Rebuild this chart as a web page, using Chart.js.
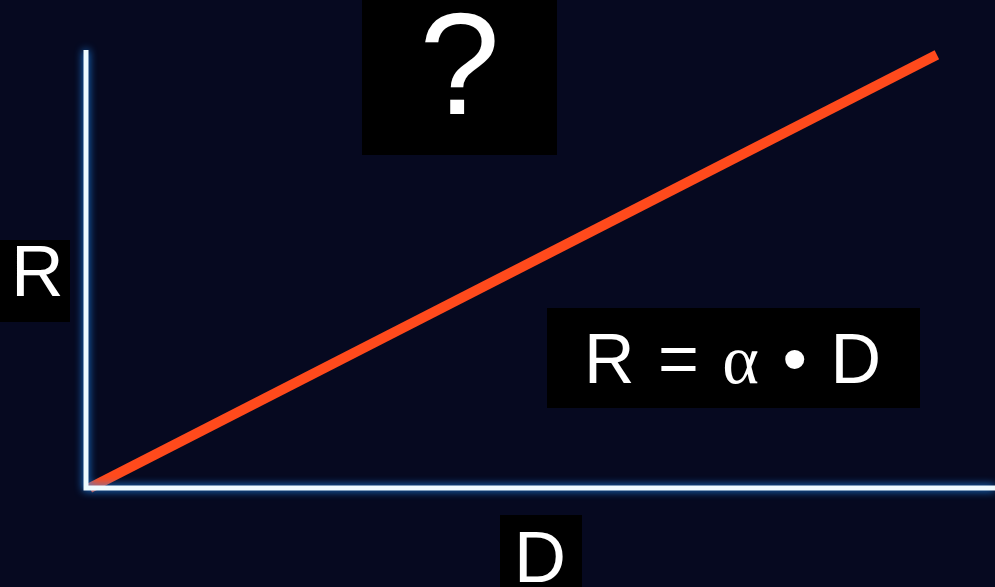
<!DOCTYPE html>
<html>
<head>
    <title>R = α • D</title>
    <script src="https://cdn.jsdelivr.net/npm/chart.js"></script>
    <style>
        html, body { margin: 0; padding: 0; background: #060920; overflow: hidden; }
        #wrap { position: relative; width: 995px; height: 587px; }
        .box { position: absolute; background: #000; }
        .lbl { position: absolute; color: #fff; font-family: "Liberation Sans", Arial, sans-serif; line-height: 1; white-space: nowrap; }
        .alpha { font-family: "Liberation Serif", "DejaVu Serif", serif; }
    </style>
</head>
<body>
    <div id="wrap">
        <canvas id="lawChart" width="995" height="587"></canvas>

        <div class="box" style="left:362px; top:0; width:195px; height:155px;"></div>
        <div class="lbl" style="left:362px; width:195px; text-align:center; top:-8px; font-size:145px;">?</div>

        <div class="box" style="left:0; top:240px; width:70px; height:82px;"></div>
        <div class="lbl" style="left:11px; top:234px; font-size:73px;">R</div>

        <div class="box" style="left:547px; top:308px; width:373px; height:100px;"></div>
        <div class="lbl" style="left:584px; top:324px; font-size:70px; word-spacing:4px;">R = <span class="alpha">α</span> • D</div>

        <div class="box" style="left:500px; top:515px; width:82px; height:72px;"></div>
        <div class="lbl" style="left:514px; top:521px; font-size:72px;">D</div>
    </div>

    <script>
        // distance (x) and recession velocity (y), arbitrary units
        const distance = [0.3, 93.6];
        const velocity = [0, 98.9];

        const axisColor = '#eefaff';
        const lineColor = '#ff4a1c';

        // white axes with a soft blue glow, placed from the chart scales
        const glowAxes = {
            id: 'glowAxes',
            afterDatasetsDraw(chart) {
                const ctx = chart.ctx;
                const x = chart.scales.x;
                const y = chart.scales.y;
                const x0 = x.getPixelForValue(0) - 1;
                const y0 = y.getPixelForValue(0);
                ctx.save();
                ctx.strokeStyle = axisColor;
                ctx.lineWidth = 5;
                ctx.lineCap = 'butt';
                ctx.shadowColor = '#1e90ff';
                ctx.shadowBlur = 8;
                ctx.beginPath();
                ctx.moveTo(x0, y.getPixelForValue(100));
                ctx.lineTo(x0, y0 + 2.5);
                ctx.moveTo(x0 - 2.5, y0);
                ctx.lineTo(x.getPixelForValue(100), y0);
                ctx.stroke();
                ctx.restore();
            }
        };

        new Chart(document.getElementById('lawChart'), {
            type: 'scatter',
            data: {
                datasets: [{
                    data: distance.map((d, i) => ({ x: d, y: velocity[i] })),
                    showLine: true,
                    borderColor: lineColor,
                    borderWidth: 10,
                    borderCapStyle: 'butt',
                    pointRadius: 0,
                    clip: false
                }]
            },
            options: {
                responsive: false,
                animation: false,
                layout: { padding: { left: 87, right: 0, top: 50, bottom: 99 } },
                plugins: { legend: { display: false }, tooltip: { enabled: false } },
                scales: {
                    x: { type: 'linear', min: 0, max: 100, display: false },
                    y: { type: 'linear', min: 0, max: 100, display: false }
                }
            },
            plugins: [glowAxes]
        });
    </script>
</body>
</html>
